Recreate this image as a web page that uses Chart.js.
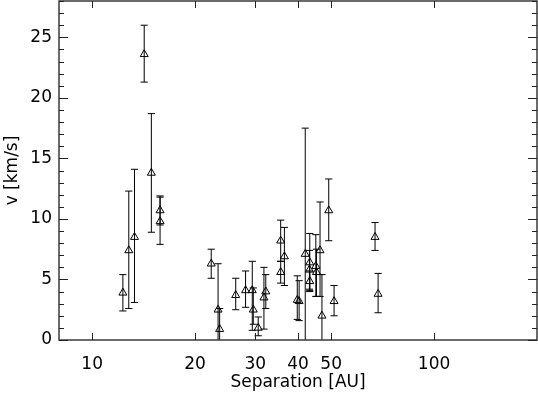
<!DOCTYPE html>
<html>
<head>
<meta charset="utf-8">
<script src="https://cdn.jsdelivr.net/npm/chart.js@4.4.1/dist/chart.umd.min.js"></script>
<style>
  html, body { margin: 0; padding: 0; background: #fff; }
  #wrap { width: 538px; height: 393px; }
</style>
</head>
<body>
<div id="wrap"><canvas id="sepChart" width="538" height="393"></canvas></div>
<script>
// separation in AU, velocity difference in km/s
var separation = [12.3, 12.8, 13.3, 14.2, 14.9, 15.8, 15.8, 22.3, 23.35, 23.6,
                  26.3, 28.1, 29.4, 29.6, 30.6, 31.8, 32.2, 35.6, 35.6, 36.5,
                  39.8, 40.3, 42.0, 43.3, 43.2, 43.3, 45.1, 45.3, 46.4, 47.0,
                  49.2, 51.0, 67.2, 68.6];
var velocity   = [3.9, 7.4, 8.5, 23.6, 13.8, 10.7, 9.8, 6.3, 2.5, 0.9,
                  3.7, 4.1, 4.1, 2.5, 1.0, 3.5, 4.0, 8.2, 5.6, 6.9,
                  3.3, 3.2, 7.1, 6.4, 5.8, 4.85, 6.1, 5.6, 7.4, 2.0,
                  10.7, 3.2, 8.5, 3.8];
var errMinus   = [1.5, 4.8, 5.4, 2.3, 4.9, 1.2, 1.9, 1.2, 4.0, 1.9,
                  1.2, 1.4, 3.3, 1.2, 0.65, 2.6, 1.4, 1.7, 0.9, 2.4,
                  1.6, 1.6, 10.4, 2.3, 1.6, 0.85, 2.5, 2.0, 3.8, 3.5,
                  2.5, 1.2, 1.1, 1.55];
var errPlus    = [1.5, 4.9, 5.6, 2.4, 4.9, 1.2, 2.0, 1.2, 3.8, 1.7,
                  1.4, 1.6, 2.4, 1.8, 0.9, 2.5, 1.4, 1.7, 0.9, 2.4,
                  2.0, 1.7, 10.4, 2.4, 1.6, 0.85, 2.6, 1.9, 4.0, 3.4,
                  2.6, 1.3, 1.2, 1.7];

var xTickValues = [10, 20, 30, 40, 50, 100];
var yTickValues = [0, 5, 10, 15, 20, 25];

var points = [];
var bars = [];
for (var i = 0; i < separation.length; i++) {
    points.push({x: separation[i], y: velocity[i]});
    bars.push({x: separation[i], y: velocity[i] - errMinus[i]});
    bars.push({x: separation[i], y: velocity[i] + errPlus[i]});
    bars.push({x: separation[i], y: null});
}

// box round the plot with inward ticks, like the IDL plot
var frameTicks = {
    id: 'frameTicks',
    afterDatasetsDraw: function(chart) {
        var ctx = chart.ctx;
        var a = chart.chartArea;
        var xs = chart.scales.x, ys = chart.scales.y;
        ctx.save();
        ctx.strokeStyle = '#3a3a3a';
        ctx.lineWidth = 1.5;
        ctx.strokeRect(a.left, a.top, a.right - a.left, a.bottom - a.top);
        ctx.lineWidth = 1;
        ctx.strokeStyle = '#222';
        ctx.beginPath();
        xTickValues.forEach(function(v) {
            var px = Math.round(xs.getPixelForValue(v)) + 0.5;
            ctx.moveTo(px, a.bottom); ctx.lineTo(px, a.bottom - 7);
            ctx.moveTo(px, a.top); ctx.lineTo(px, a.top + 7);
        });
        for (var v = 0; v <= 28; v++) {
            var py = Math.round(ys.getPixelForValue(v)) + 0.5;
            var len = (v % 5 === 0) ? 9 : 5;
            ctx.moveTo(a.left, py); ctx.lineTo(a.left + len, py);
            ctx.moveTo(a.right, py); ctx.lineTo(a.right - len, py);
        }
        ctx.stroke();
        ctx.restore();
    }
};

var font = {family: 'DejaVu Sans', size: 17};

new Chart(document.getElementById('sepChart').getContext('2d'), {
    type: 'scatter',
    data: {
        datasets: [
            {
                label: 'errors',
                data: bars,
                showLine: true,
                spanGaps: false,
                borderColor: '#000',
                borderWidth: 1,
                pointStyle: 'line',
                pointRadius: 3.6,
                pointBorderColor: '#000',
                pointBorderWidth: 1
            },
            {
                label: 'v',
                data: points,
                pointStyle: 'triangle',
                pointRadius: 4.6,
                pointBackgroundColor: 'rgba(0,0,0,0)',
                pointBorderColor: '#000',
                pointBorderWidth: 1
            }
        ]
    },
    options: {
        responsive: false,
        animation: false,
        events: [],
        layout: {autoPadding: false, padding: {top: 1, right: 1, left: 0, bottom: 0}},
        plugins: {legend: {display: false}, tooltip: {enabled: false}},
        scales: {
            x: {
                type: 'logarithmic',
                min: 8,
                max: 200,
                afterBuildTicks: function(scale) {
                    scale.ticks = xTickValues.map(function(v) { return {value: v}; });
                },
                afterFit: function(scale) {
                    scale.height = 53;
                    scale.paddingLeft = 0;
                    scale.paddingRight = 0;
                },
                grid: {display: false, drawTicks: false},
                border: {display: false},
                ticks: {
                    color: '#000',
                    font: font,
                    padding: 14,
                    maxRotation: 0,
                    autoSkip: false,
                    callback: function(value) { return String(value); }
                },
                title: {display: true, text: 'Separation [AU]', color: '#000', font: font,
                        padding: {top: 0, bottom: 0}}
            },
            y: {
                min: 0,
                max: 28,
                afterBuildTicks: function(scale) {
                    scale.ticks = yTickValues.map(function(v) { return {value: v}; });
                },
                afterFit: function(scale) {
                    scale.width = 59;
                    scale.paddingTop = 0;
                    scale.paddingBottom = 0;
                },
                grid: {display: false, drawTicks: false},
                border: {display: false},
                ticks: {color: '#000', font: font, padding: 7},
                title: {display: true, text: 'v [km/s]', color: '#000', font: font,
                        padding: {top: 2, bottom: 0}}
            }
        }
    },
    plugins: [frameTicks]
});
</script>
</body>
</html>
